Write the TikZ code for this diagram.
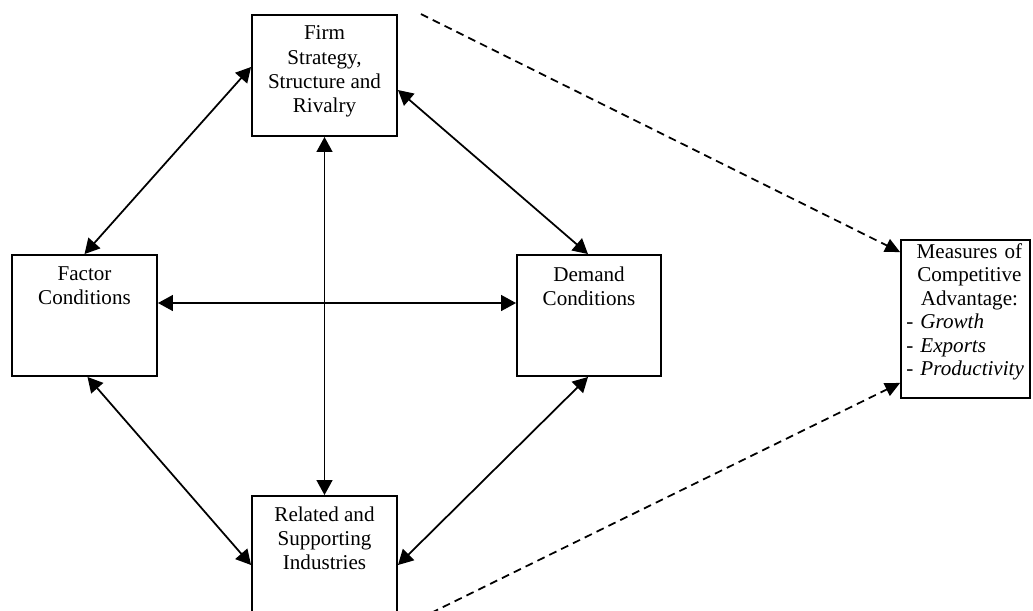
\documentclass[tikz,border=0pt]{standalone}
\usepackage{fontspec}
\setmainfont{Liberation Serif}
\usetikzlibrary{arrows.meta}
\begin{document}
\begin{tikzpicture}[x=0.02cm,y=-0.02cm,
  box/.style={draw, line width=1.1pt, rectangle, inner sep=0pt},
  lbl/.style={anchor=north, align=center, font=\fontsize{12}{13.8}\selectfont, inner sep=0pt},
  twoway/.style={{Triangle[length=8.5pt,width=9pt]}-{Triangle[length=8.5pt,width=9pt]}, line width=1pt},
  dasharrow/.style={-{Triangle[length=8.5pt,width=8pt]}, dash pattern=on 4.5pt off 3pt, line width=1pt}]
\useasboundingbox (0,0) rectangle (1033,610);
% boxes
\node[box, minimum width=2.9cm, minimum height=2.42cm] (firm) at (324.5,75.5) {};
\node[box, minimum width=2.9cm, minimum height=2.42cm] (factor) at (84.5,315.5) {};
\node[box, minimum width=2.88cm, minimum height=2.42cm] (demand) at (589,315.5) {};
\node[box, minimum width=2.9cm, minimum height=2.42cm] (related) at (324.5,556.5) {};
\node[box, minimum width=2.58cm, minimum height=3.16cm] (measures) at (965.5,319) {};
% texts
\node[lbl] (firmtxt) at ([yshift=-0.23cm]firm.north) {Firm\\Strategy,\\Structure and\\Rivalry};
\node[lbl] (factortxt) at ([yshift=-0.24cm]factor.north) {Factor\\Conditions};
\node[lbl] (demandtxt) at ([yshift=-0.24cm]demand.north) {Demand\\Conditions};
\node[lbl] (relatedtxt) at ([yshift=-0.22cm]related.north) {Related and\\Supporting\\Industries};
\node[anchor=north west, inner sep=0pt, text width=2.52cm, font=\fontsize{12}{13.4}\selectfont]
  (measurestxt) at ([xshift=0.12cm,yshift=-0.08cm]measures.north west)
  {\centering Measures of\\Competitive\\Advantage:\par\raggedright - \textit{Growth}\\- \textit{Exports}\\- \textit{Productivity}\par};
% coordinates for dashed starts
\coordinate (dtop) at ([shift={(23,0)}]firm.north east);
\coordinate (dbot) at ([shift={(33,-5)}]related.south east);
% solid arrows
\draw[twoway] ([shift={(0,-8.5)}]firm.west) -- (factor.north);
\draw[twoway] ([shift={(0,14.5)}]firm.east) -- ([shift={(-1,0)}]demand.north);
\draw[twoway] (firm.south) -- (related.north);
\draw[twoway] ([shift={(0,-12.5)}]factor.east) -- ([shift={(0,-12.5)}]demand.west);
\draw[twoway] ([shift={(3,0)}]factor.south) -- ([shift={(0,8.5)}]related.west);
\draw[twoway] ([shift={(-1,0)}]demand.south) -- ([shift={(0,8.5)}]related.east);
% dashed arrows
\draw[dasharrow] (dtop) -- ([shift={(0,13)}]measures.north west);
\draw[dasharrow] (dbot) -- ([shift={(0,-16)}]measures.south west);
\end{tikzpicture}
\end{document}
